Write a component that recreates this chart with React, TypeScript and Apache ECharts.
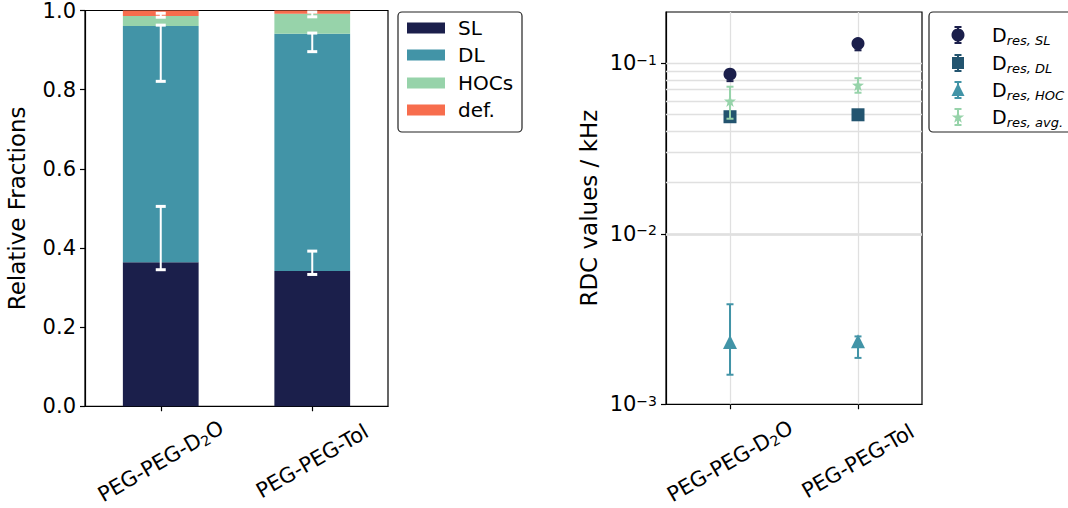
import React, { useEffect, useRef } from 'react';
import * as echarts from 'echarts';

// ---------- data ----------
const categories = ['PEG-PEG-D₂O', 'PEG-PEG-Tol'];

// stacked relative fractions
const slFrac = [0.364, 0.342];
const dlFrac = [0.597, 0.599];
const hocFrac = [0.025, 0.051];
const defFrac = [0.014, 0.008];

// error bars on cumulative tops (low, high)
const slErrLow = [0.345, 0.333];
const slErrHigh = [0.505, 0.392];
const dlErrLow = [0.821, 0.896];
const dlErrHigh = [0.963, 0.943];
const hocErrLow = [0.983, 0.984];
const hocErrHigh = [0.993, 0.996];

// RDC values / kHz
const rdcSL = [0.0863, 0.1306];
const rdcSLLow = [0.0786, 0.1192];
const rdcSLHigh = [0.091, 0.137];
const rdcDL = [0.0486, 0.0499];
const rdcDLLow = [0.046, 0.0475];
const rdcDLHigh = [0.051, 0.0523];
const rdcHOC = [0.00232, 0.00234];
const rdcHOCLow = [0.00149, 0.00187];
const rdcHOCHigh = [0.00386, 0.0025];
const rdcAvg = [0.0601, 0.0745];
const rdcAvgLow = [0.0473, 0.0672];
const rdcAvgHigh = [0.0729, 0.0818];

const logGridValues = [
  0.002, 0.003, 0.004, 0.005, 0.006, 0.007, 0.008, 0.009, 0.01,
  0.02, 0.03, 0.04, 0.05, 0.06, 0.07, 0.08, 0.09, 0.1,
];

const fracTickLabels = ['0.0', '0.2', '0.4', '0.6', '0.8', '1.0'];

// ---------- styles ----------
const FONT = 'DejaVu Sans';
const C_SL = '#1b1f4b';
const C_DL = '#4294a7';
const C_HOC = '#97d3aa';
const C_DEF = '#f76d4d';
const C_RDL = '#23546f';
const TICK_FS = 21;
const TITLE_FS = 23;

const starPath =
  'path://M0,-10 L2.35,-3.24 L9.51,-3.09 L3.8,1.24 L5.88,8.09 L0,4 L-5.88,8.09 L-3.8,1.24 L-9.51,-3.09 L-2.35,-3.24 Z';

function errSeries(
  name: string,
  xi: number,
  yi: number,
  low: number[],
  high: number[],
  color: string,
  hw: number,
  lw: number,
  capW: number,
  z: number
) {
  return {
    name,
    type: 'custom',
    xAxisIndex: xi,
    yAxisIndex: yi,
    z,
    silent: true,
    data: low.map((l, i) => [i, l, high[i]]),
    encode: { x: 0, y: [1, 2] },
    renderItem: (params: any, api: any) => {
      const x = api.value(0);
      const pLo = api.coord([x, api.value(1)]);
      const pHi = api.coord([x, api.value(2)]);
      return {
        type: 'group',
        children: [
          {
            type: 'line',
            shape: { x1: pLo[0], y1: pLo[1], x2: pHi[0], y2: pHi[1] },
            style: { stroke: color, lineWidth: lw },
          },
          {
            type: 'line',
            shape: { x1: pLo[0] - hw, y1: pLo[1], x2: pLo[0] + hw, y2: pLo[1] },
            style: { stroke: color, lineWidth: capW },
          },
          {
            type: 'line',
            shape: { x1: pHi[0] - hw, y1: pHi[1], x2: pHi[0] + hw, y2: pHi[1] },
            style: { stroke: color, lineWidth: capW },
          },
        ],
      };
    },
  };
}

function starPoints(cx: number, cy: number, R: number) {
  const pts: number[][] = [];
  for (let i = 0; i < 10; i++) {
    const r = i % 2 === 0 ? R : R * 0.4;
    const a = -Math.PI / 2 + (i * Math.PI) / 5;
    pts.push([cx + r * Math.cos(a), cy + r * Math.sin(a)]);
  }
  return pts;
}

const catLabel = {
  rotate: 30,
  align: 'center',
  verticalAlign: 'middle',
  margin: 55,
  fontSize: TICK_FS,
  fontFamily: FONT,
  color: '#000',
  formatter: (v: string) => v.replace('₂', '{sub|2}'),
  rich: { sub: { fontSize: 14, fontFamily: FONT, color: '#000', verticalAlign: 'bottom', padding: [9, 0, 0, 0] } },
};

const supMap: Record<string, string> = { '-1': '−1', '-2': '−2', '-3': '−3' };

function App() {
  const ref = useRef<HTMLDivElement>(null);
  useEffect(() => {
    const chart = echarts.init(ref.current!, null, { renderer: 'svg' });

    const legendRows = [35, 63, 90, 117];
    const lx = 958;
    const rightLegendIcons: any[] = [];
    const legendColors = [C_SL, C_RDL, C_DL, C_HOC];
    legendRows.forEach((y, i) => {
      const c = legendColors[i];
      rightLegendIcons.push(
        { type: 'line', shape: { x1: lx, y1: y - 8, x2: lx, y2: y + 8 }, style: { stroke: c, lineWidth: 2 } },
        { type: 'line', shape: { x1: lx - 3.5, y1: y - 8, x2: lx + 3.5, y2: y - 8 }, style: { stroke: c, lineWidth: 2 } },
        { type: 'line', shape: { x1: lx - 3.5, y1: y + 8, x2: lx + 3.5, y2: y + 8 }, style: { stroke: c, lineWidth: 2 } }
      );
    });
    rightLegendIcons.push(
      { type: 'circle', shape: { cx: lx, cy: legendRows[0], r: 6.5 }, style: { fill: C_SL } },
      { type: 'rect', shape: { x: lx - 6, y: legendRows[1] - 6, width: 12, height: 12 }, style: { fill: C_RDL } },
      {
        type: 'polygon',
        shape: { points: [[lx, legendRows[2] - 7], [lx - 6.5, legendRows[2] + 6], [lx + 6.5, legendRows[2] + 6]] },
        style: { fill: C_DL },
      },
      { type: 'polygon', shape: { points: starPoints(lx, legendRows[3] + 0.5, 6.5) }, style: { fill: C_HOC } }
    );
    const rightLegendLabels = ['SL', 'DL', 'HOC', 'avg.'].map((s, i) => ({
      type: 'text',
      x: 992,
      y: legendRows[i],
      style: {
        text: 'D{s|res, ' + s + '}',
        fontSize: 19,
        fontFamily: FONT,
        fill: '#000',
        verticalAlign: 'middle',
        rich: { s: { fontSize: 13, fontStyle: 'italic', fontFamily: FONT, fill: '#000', verticalAlign: 'bottom', padding: [10, 0, 0, 0] } },
      },
    }));

    const leftLegendRows = [28, 55, 83, 110];
    const leftLegendColors = [C_SL, C_DL, C_HOC, C_DEF];
    const leftLegendNames = ['SL', 'DL', 'HOCs', 'def.'];
    const leftLegend: any[] = [];
    leftLegendRows.forEach((y, i) => {
      leftLegend.push(
        { type: 'rect', shape: { x: 407, y: y - 5.5, width: 38, height: 11 }, style: { fill: leftLegendColors[i] } },
        {
          type: 'text',
          x: 458,
          y,
          style: { text: leftLegendNames[i], fontSize: 20, fontFamily: FONT, fill: '#000', verticalAlign: 'middle' },
        }
      );
    });

    const option: any = {
      animation: false,
      backgroundColor: '#fff',
      textStyle: { fontFamily: FONT },
      grid: [
        { left: 85, top: 10, width: 303, height: 397, show: true, borderColor: '#000', borderWidth: 1.2, backgroundColor: 'transparent' },
        { left: 666, top: 12, width: 256, height: 396, show: true, borderColor: '#000', borderWidth: 1.2, backgroundColor: 'transparent' },
      ],
      xAxis: [
        {
          type: 'category',
          gridIndex: 0,
          data: categories,
          axisLine: { show: true, lineStyle: { color: '#000', width: 1.2 } },
          axisTick: { show: true, alignWithLabel: true, length: 5, lineStyle: { color: '#000', width: 1.2 } },
          axisLabel: catLabel,
          splitLine: { show: false },
        },
        {
          type: 'category',
          gridIndex: 1,
          data: categories,
          axisLine: { show: true, lineStyle: { color: '#000', width: 1.2 } },
          axisTick: { show: true, alignWithLabel: true, length: 5, lineStyle: { color: '#000', width: 1.2 } },
          axisLabel: { ...catLabel, margin: 57 },
          splitLine: { show: false },
        },
      ],
      yAxis: [
        {
          type: 'value',
          gridIndex: 0,
          min: 0,
          max: 1,
          interval: 0.2,
          axisLine: { show: true, lineStyle: { color: '#000', width: 1.2 } },
          axisTick: { show: true, length: 5, lineStyle: { color: '#000', width: 1.2 } },
          axisLabel: {
            fontSize: TICK_FS,
            fontFamily: FONT,
            color: '#000',
            margin: 9,
            formatter: (v: number) => fracTickLabels[Math.round(v / 0.2)] ?? '',
          },
          splitLine: { show: false },
          name: 'Relative Fractions',
          nameLocation: 'middle',
          nameGap: 57,
          nameTextStyle: { fontSize: TITLE_FS, fontFamily: FONT, color: '#000' },
        },
        {
          type: 'log',
          logBase: 10,
          gridIndex: 1,
          min: 0.001,
          max: 0.2,
          axisLine: { show: true, lineStyle: { color: '#000', width: 1.2 } },
          axisTick: { show: true, length: 5, lineStyle: { color: '#000', width: 1.2 } },
          axisLabel: {
            fontSize: TICK_FS,
            fontFamily: FONT,
            color: '#000',
            margin: 9,
            showMaxLabel: false,
            formatter: (v: number) => {
              const e = Math.log10(v);
              const r = Math.round(e);
              if (Math.abs(e - r) > 1e-6) return '';
              return '10{sup|' + (supMap[String(r)] ?? String(r)) + '}';
            },
            rich: { sup: { fontSize: 14, fontFamily: FONT, color: '#000', verticalAlign: 'top', padding: [0, 0, 6, 0] } },
          },
          splitLine: { show: false },
          name: 'RDC values / kHz',
          nameLocation: 'middle',
          nameGap: 66,
          nameTextStyle: { fontSize: TITLE_FS, fontFamily: FONT, color: '#000' },
        },
      ],
      series: [
        { name: 'SL', type: 'bar', stack: 'frac', xAxisIndex: 0, yAxisIndex: 0, barWidth: '50%', data: slFrac, itemStyle: { color: C_SL } },
        { name: 'DL', type: 'bar', stack: 'frac', xAxisIndex: 0, yAxisIndex: 0, barWidth: '50%', data: dlFrac, itemStyle: { color: C_DL } },
        { name: 'HOCs', type: 'bar', stack: 'frac', xAxisIndex: 0, yAxisIndex: 0, barWidth: '50%', data: hocFrac, itemStyle: { color: C_HOC } },
        { name: 'def.', type: 'bar', stack: 'frac', xAxisIndex: 0, yAxisIndex: 0, barWidth: '50%', data: defFrac, itemStyle: { color: C_DEF } },
        errSeries('errSL', 0, 0, slErrLow, slErrHigh, '#fff', 5, 2, 3, 10),
        errSeries('errDL', 0, 0, dlErrLow, dlErrHigh, '#fff', 5, 2, 3, 10),
        errSeries('errHOC', 0, 0, hocErrLow, hocErrHigh, '#fff', 5, 2, 3, 10),
        {
          name: 'grid',
          type: 'line',
          xAxisIndex: 1,
          yAxisIndex: 1,
          data: [],
          z: 1,
          silent: true,
          markLine: {
            z: 1,
            silent: true,
            symbol: ['none', 'none'],
            label: { show: false },
            lineStyle: { color: '#e0e0e0', width: 1.3, type: 'solid' },
            data: [
              ...logGridValues.map((v) => ({ yAxis: v })),
              ...categories.map((c) => ({ xAxis: c })),
            ],
          },
        },
        errSeries('errRSL', 1, 1, rdcSLLow, rdcSLHigh, C_SL, 3.5, 2, 2, 2),
        { name: 'D_res,SL', type: 'scatter', xAxisIndex: 1, yAxisIndex: 1, symbol: 'circle', symbolSize: 13, data: rdcSL, itemStyle: { color: C_SL, opacity: 1 }, z: 3 },
        errSeries('errRDL', 1, 1, rdcDLLow, rdcDLHigh, C_RDL, 3.5, 2, 2, 4),
        { name: 'D_res,DL', type: 'scatter', xAxisIndex: 1, yAxisIndex: 1, symbol: 'rect', symbolSize: 13, data: rdcDL, itemStyle: { color: C_RDL, opacity: 1 }, z: 5 },
        errSeries('errRHOC', 1, 1, rdcHOCLow, rdcHOCHigh, C_DL, 3.5, 2, 2, 6),
        { name: 'D_res,HOC', type: 'scatter', xAxisIndex: 1, yAxisIndex: 1, symbol: 'triangle', symbolSize: 14, data: rdcHOC, itemStyle: { color: C_DL, opacity: 1 }, z: 7 },
        errSeries('errRAvg', 1, 1, rdcAvgLow, rdcAvgHigh, C_HOC, 3.5, 2, 2, 8),
        { name: 'D_res,avg.', type: 'scatter', xAxisIndex: 1, yAxisIndex: 1, symbol: starPath, symbolSize: 12, data: rdcAvg, itemStyle: { color: C_HOC, opacity: 1 }, z: 9 },
      ],
      graphic: [
        {
          type: 'rect',
          shape: { x: 398, y: 12, width: 124, height: 120, r: 4 },
          style: { fill: '#fff', stroke: '#222', lineWidth: 1.2 },
          z: 20,
        },
        ...leftLegend.map((g) => ({ ...g, z: 21 })),
        {
          type: 'rect',
          shape: { x: 929, y: 12, width: 150, height: 120, r: 4 },
          style: { fill: '#fff', stroke: '#222', lineWidth: 1.2 },
          z: 20,
        },
        ...rightLegendIcons.map((g) => ({ ...g, z: 21 })),
        ...rightLegendLabels.map((g) => ({ ...g, z: 21 })),
      ],
    };
    chart.setOption(option);
    return () => chart.dispose();
  }, []);
  return <div ref={ref} style={{ position: 'fixed', left: 0, top: 0, width: 1068, height: 508 }} />;
}

export default App;
